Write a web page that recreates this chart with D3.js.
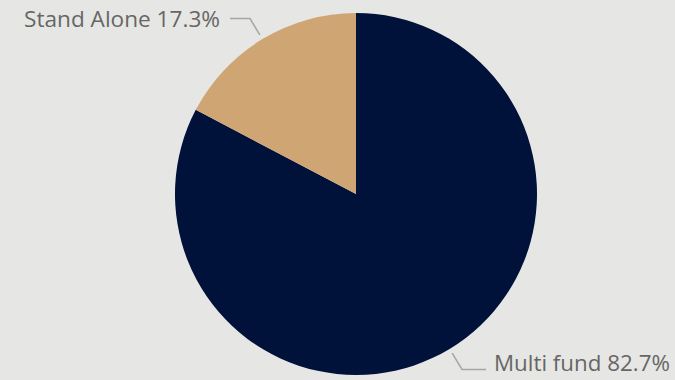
<!DOCTYPE html>
<html><head><meta charset="utf-8">
<script src="https://cdn.jsdelivr.net/npm/d3@7/dist/d3.min.js"></script>
<style>html,body{margin:0;padding:0;background:#e6e6e4;}svg{display:block;}</style>
</head><body>
<svg id="c" width="675" height="380"></svg>
<script>
const categories = ["Multi fund", "Stand Alone"];
const values = [82.7, 17.3];
const colors = ["#00113a", "#cfa574"];

const svg = d3.select("#c");
const W = 675, H = 380;
svg.append("rect").attr("width", W).attr("height", H).attr("fill", "#e6e6e4");
const cx = 356, cy = 194, r = 181;
const g = svg.append("g").attr("transform", `translate(${cx},${cy})`);
const pie = d3.pie().sort(null).value(d => d.v);
const data = pie(categories.map((c, i) => ({c, v: values[i], col: colors[i]})));
const arc = d3.arc().innerRadius(0).outerRadius(r);
g.selectAll("path.s").data(data).join("path").attr("class", "s")
  .attr("d", arc).attr("fill", d => d.data.col);

data.forEach((d) => {
  const ang = (d.startAngle + d.endAngle) / 2;
  const p0 = [Math.sin(ang) * (r + 5), -Math.cos(ang) * (r + 5)];
  const p1 = [Math.sin(ang) * (r + 24), -Math.cos(ang) * (r + 24)];
  const right = Math.sin(ang) > 0;
  const p2 = [p1[0] + (right ? 24 : -20), p1[1]];
  g.append("polyline").attr("points", [p0, p1, p2].map(p => p.join(",")).join(" "))
    .attr("fill", "none").attr("stroke", "#a6a6a6").attr("stroke-width", 1.5);
  const t = g.append("text").attr("x", p2[0] + (right ? 8 : -10)).attr("y", p2[1] + (right ? 2 : 8))
    .attr("text-anchor", right ? "start" : "end")
    .attr("font-family", "'Open Sans', 'Noto Sans', sans-serif").attr("font-size", 20)
    .attr("fill", "#666666")
    .text(`${d.data.c} ${d.data.v}%`);
  // fit font size to the reference label width
  const target = right ? 176 : 196;
  const w = t.node().getComputedTextLength();
  t.attr("font-size", 20 * target / w);
});
</script>
</body></html>
